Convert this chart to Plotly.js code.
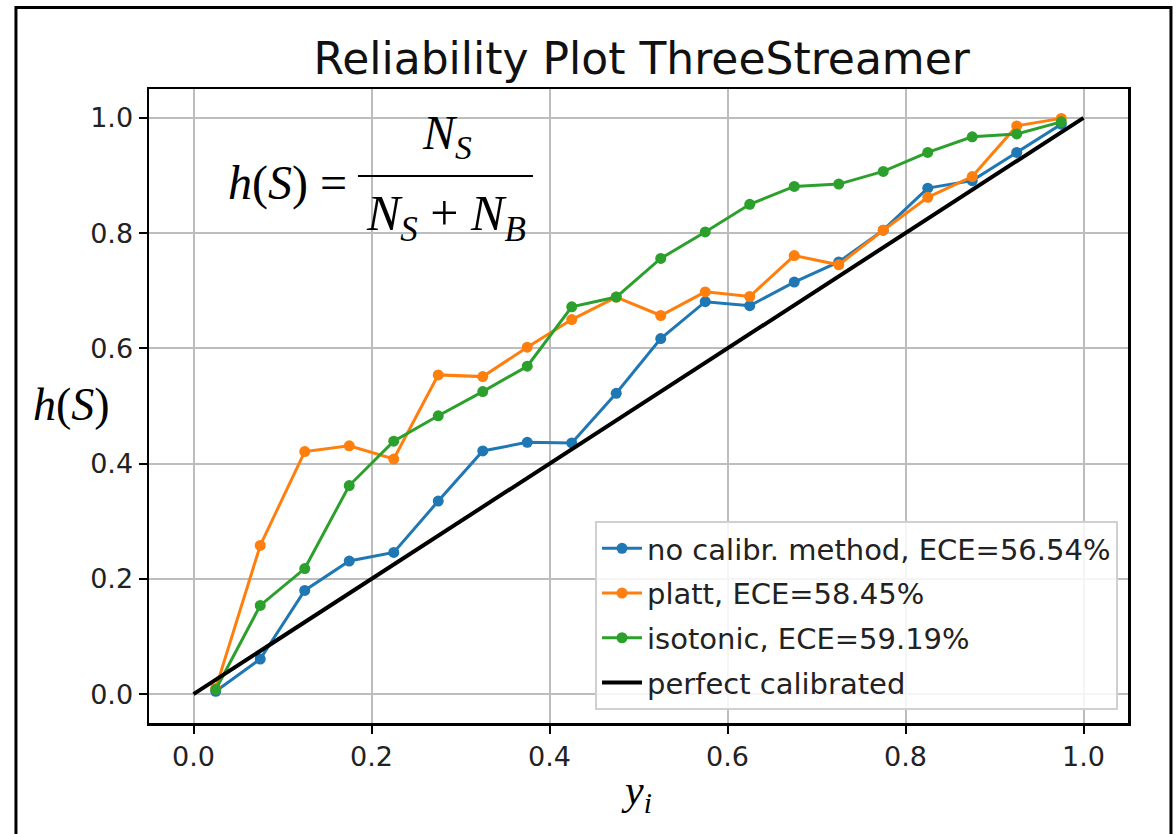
<!DOCTYPE html>
<html>
<head>
<meta charset="utf-8">
<script src="https://cdn.plot.ly/plotly-3.0.1.min.js"></script>
<style>
  html, body { margin: 0; padding: 0; background: #ffffff; }
  #chart { width: 1176px; height: 834px; }
</style>
</head>
<body>
<div id="chart"></div>
<script>
// Bin centres (x) and observed h(S) per bin
const binCenters = [0.025, 0.075, 0.125, 0.175, 0.225, 0.275, 0.325, 0.375, 0.425, 0.475,
                    0.525, 0.575, 0.625, 0.675, 0.725, 0.775, 0.825, 0.875, 0.925, 0.975];
const noCalib  = [0.005, 0.061, 0.180, 0.231, 0.246, 0.335, 0.422, 0.437, 0.436, 0.522,
                  0.617, 0.681, 0.674, 0.715, 0.750, 0.805, 0.878, 0.891, 0.940, 0.989];
const platt    = [0.010, 0.258, 0.421, 0.431, 0.408, 0.554, 0.551, 0.602, 0.650, 0.689,
                  0.657, 0.698, 0.690, 0.761, 0.745, 0.805, 0.862, 0.898, 0.986, 0.999];
const isotonic = [0.008, 0.154, 0.218, 0.362, 0.439, 0.483, 0.525, 0.569, 0.672, 0.689,
                  0.756, 0.802, 0.850, 0.881, 0.885, 0.907, 0.940, 0.967, 0.972, 0.993];
const perfectX = [0, 1];
const perfectY = [0, 1];

const seriesNames = ["no calibr. method, ECE=56.54%", "platt, ECE=58.45%",
                     "isotonic, ECE=59.19%", "perfect calibrated"];
const tickVals = [0, 0.2, 0.4, 0.6, 0.8, 1.0];
const tickText = ["0.0", "0.2", "0.4", "0.6", "0.8", "1.0"];

const colors = ["#1f77b4", "#ff7f0e", "#2ca02c", "#000000"];

function curve(y, i) {
  return {
    x: binCenters, y: y, name: seriesNames[i], type: "scatter", mode: "lines+markers",
    line: {color: colors[i], width: 3}, marker: {color: colors[i], size: 11},
    legendgroup: "g" + i
  };
}

const traces = [
  curve(noCalib, 0),
  curve(platt, 1),
  curve(isotonic, 2),
  {x: perfectX, y: perfectY, name: seriesNames[3], type: "scatter", mode: "lines",
   line: {color: "#000000", width: 4}, legendgroup: "g3"}
];

const axisCommon = {
  range: [-0.05, 1.05], tickvals: tickVals, ticktext: tickText,
  showgrid: true, gridcolor: "#bdbdbd", gridwidth: 2,
  zeroline: false, showline: true, mirror: true, linecolor: "#000000", linewidth: 2.5,
  ticks: "outside", ticklen: 8, tickwidth: 2, tickcolor: "#000000",
  tickfont: {family: "DejaVu Sans", size: 27, color: "#222222"}
};

const serif = "Liberation Serif, DejaVu Serif, serif";

const layout = {
  width: 1176, height: 834,
  margin: {l: 149, r: 48, t: 89, b: 111},
  paper_bgcolor: "#ffffff", plot_bgcolor: "#ffffff",
  title: {text: "Reliability Plot ThreeStreamer", x: 0.5457, xanchor: "center",
          y: 0.93, yanchor: "middle",
          font: {family: "DejaVu Sans", size: 44, color: "#111111"}},
  xaxis: Object.assign({}, axisCommon, {
    title: {text: "<i>y</i><sub><i>i</i></sub>", standoff: 4,
            font: {family: serif, size: 42, color: "#000000"}}
  }),
  yaxis: Object.assign({}, axisCommon),
  showlegend: true,
  legend: {
    x: 0.9898, xanchor: "right", y: 0.0205, yanchor: "bottom",
    bgcolor: "rgba(255,255,255,0.85)", bordercolor: "#d0d0d0", borderwidth: 2,
    font: {family: "DejaVu Sans", size: 29, color: "#222222"},
    traceorder: "grouped", tracegroupgap: 4, itemwidth: 40
  },
  annotations: [
    {xref: "paper", yref: "paper", x: -0.0787, y: 0.5016, xanchor: "center", yanchor: "middle",
     text: "<i>h</i>(<i>S</i>)", showarrow: false,
     font: {family: serif, size: 46, color: "#000000"}},
    {xref: "paper", yref: "paper", x: 0.2043, y: 0.852, xanchor: "right", yanchor: "middle",
     text: "<i>h</i>(<i>S</i>) =", showarrow: false,
     font: {family: serif, size: 48, color: "#000000"}},
    {xref: "paper", yref: "paper", x: 0.3044, y: 0.876, xanchor: "center", yanchor: "bottom",
     text: "<i>N</i><sub><i>S</i></sub>", showarrow: false,
     font: {family: serif, size: 48, color: "#000000"}},
    {xref: "paper", yref: "paper", x: 0.3034, y: 0.852, xanchor: "center", yanchor: "top",
     text: "<i>N</i><sub><i>S</i></sub> + <i>N</i><sub><i>B</i></sub>", showarrow: false,
     font: {family: serif, size: 50, color: "#000000"}}
  ],
  shapes: [
    {type: "line", xref: "paper", yref: "paper", x0: 0.2135, x1: 0.3922, y0: 0.8628, y1: 0.8628,
     line: {color: "#000000", width: 2}},
    {type: "rect", xref: "paper", yref: "paper", x0: -0.1359, x1: 1.0439, y0: -0.25, y1: 1.1285,
     line: {color: "#000000", width: 3}, fillcolor: "rgba(0,0,0,0)", layer: "below"}
  ]
};

Plotly.newPlot("chart", traces, layout, {displayModeBar: false, staticPlot: true});
</script>
</body>
</html>
